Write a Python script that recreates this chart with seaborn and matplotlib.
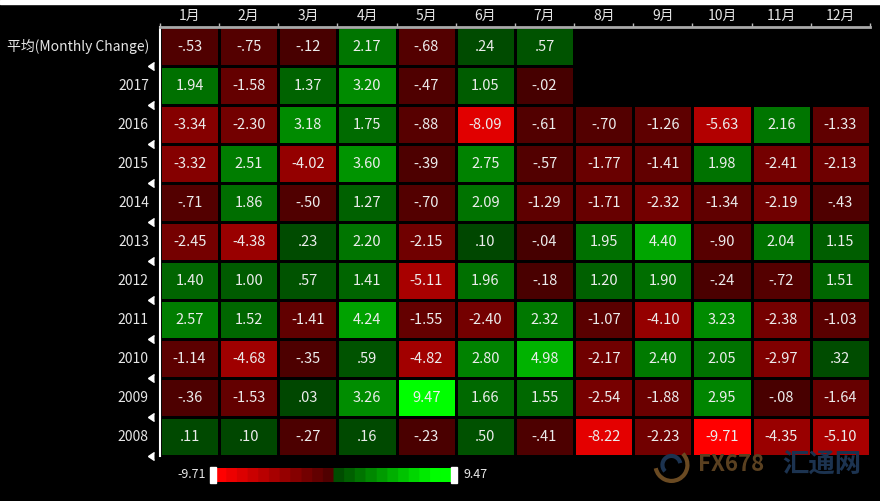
import numpy as np
import pandas as pd
import seaborn as sns
import matplotlib.pyplot as plt
from matplotlib.colors import LinearSegmentedColormap
from matplotlib.patches import Rectangle, Arc
import matplotlib.transforms as mtransforms

# Monthly change table (Bloomberg seasonality screen)
months = ["1月", "2月", "3月", "4月", "5月", "6月", "7月", "8月", "9月", "10月", "11月", "12月"]
rows = ["平均(Monthly Change)", "2017", "2016", "2015", "2014", "2013",
        "2012", "2011", "2010", "2009", "2008"]
nan = np.nan
avg = [-.53, -.75, -.12, 2.17, -.68, .24, .57, nan, nan, nan, nan, nan]
y2017 = [1.94, -1.58, 1.37, 3.20, -.47, 1.05, -.02, nan, nan, nan, nan, nan]
y2016 = [-3.34, -2.30, 3.18, 1.75, -.88, -8.09, -.61, -.70, -1.26, -5.63, 2.16, -1.33]
y2015 = [-3.32, 2.51, -4.02, 3.60, -.39, 2.75, -.57, -1.77, -1.41, 1.98, -2.41, -2.13]
y2014 = [-.71, 1.86, -.50, 1.27, -.70, 2.09, -1.29, -1.71, -2.32, -1.34, -2.19, -.43]
y2013 = [-2.45, -4.38, .23, 2.20, -2.15, .10, -.04, 1.95, 4.40, -.90, 2.04, 1.15]
y2012 = [1.40, 1.00, .57, 1.41, -5.11, 1.96, -.18, 1.20, 1.90, -.24, -.72, 1.51]
y2011 = [2.57, 1.52, -1.41, 4.24, -1.55, -2.40, 2.32, -1.07, -4.10, 3.23, -2.38, -1.03]
y2010 = [-1.14, -4.68, -.35, .59, -4.82, 2.80, 4.98, -2.17, 2.40, 2.05, -2.97, .32]
y2009 = [-.36, -1.53, .03, 3.26, 9.47, 1.66, 1.55, -2.54, -1.88, 2.95, -.08, -1.64]
y2008 = [.11, .10, -.27, .16, -.23, .50, -.41, -8.22, -2.23, -9.71, -4.35, -5.10]

df = pd.DataFrame([avg, y2017, y2016, y2015, y2014, y2013, y2012,
                   y2011, y2010, y2009, y2008], index=rows, columns=months)

vmin, vmax = -9.71, 9.47
span = vmax - vmin
z = -vmin / span
gsat = (8.6 - vmin) / span  # green saturates a bit before the top
cmap = LinearSegmentedColormap.from_list(
    "rg", [(0, "#ff0000"), (z, "#460000"), (z, "#004600"),
           (gsat, "#00ff00"), (1, "#00ff00")])


def fmt(v):
    if np.isnan(v):
        return ""
    s = f"{v:.2f}"
    return s.replace("0.", ".", 1) if s.lstrip("-").startswith("0.") else s


labels = df.map(fmt)

plt.rcParams["font.family"] = ["Noto Sans CJK SC", "DejaVu Sans"]
fig = plt.figure(figsize=(8.8, 5.01), dpi=100, facecolor="black")
ax = fig.add_axes([0.1818, 0.0898, 0.8068, 0.8562])
ax.set_facecolor("black")

sns.heatmap(df, ax=ax, cmap=cmap, vmin=vmin, vmax=vmax, cbar=False,
            annot=labels, fmt="", linewidths=1, linecolor="black",
            annot_kws={"color": "#ececec", "fontsize": 10.5})

ax.xaxis.tick_top()
ax.set_xticks(np.arange(12) + 0.5)
ax.set_xticklabels(months, color="#e6e6e6", fontsize=10)
ax.set_xticks(np.arange(13), minor=True)
ax.tick_params(axis="x", which="major", length=0, pad=3)
ax.tick_params(axis="x", which="minor", length=3, color="#bbbbbb", width=1)
ax.set_yticklabels(rows, color="#e6e6e6", fontsize=10, rotation=0)
ax.tick_params(axis="y", length=0, pad=8)
ax.set_xlabel("")
ax.set_ylabel("")
for side in ["right", "bottom"]:
    ax.spines[side].set_visible(False)
ax.spines["top"].set_visible(True)
ax.spines["top"].set_color("#aaaaaa")
ax.spines["top"].set_linewidth(2)
ax.spines["left"].set_visible(True)
ax.spines["left"].set_color("white")
ax.spines["left"].set_linewidth(1.5)

# little row markers on the left edge
trans = mtransforms.blended_transform_factory(ax.transAxes, ax.transData)
ax.plot([-0.009] * 11, np.arange(1, 12), linestyle="none", marker=8,
        markersize=6, color="white", transform=trans, clip_on=False)

# colour scale bar
cax = fig.add_axes([0.2443, 0.038, 0.2693, 0.028])
steps = cmap.resampled(22)
grad = np.linspace(vmin, vmax, 400).reshape(1, -1)
cax.imshow(grad, aspect="auto", cmap=steps, vmin=vmin, vmax=vmax,
           extent=[0, 1, 0, 1])
cax.add_patch(Rectangle((-0.02, -0.05), 0.025, 1.1, color="white",
                        transform=cax.transAxes, clip_on=False))
cax.add_patch(Rectangle((0.995, -0.05), 0.025, 1.1, color="white",
                        transform=cax.transAxes, clip_on=False))
cax.set_axis_off()
fig.text(0.234, 0.052, f"{vmin:.2f}", color="#e6e6e6", fontsize=9,
         ha="right", va="center")
fig.text(0.527, 0.052, f"{vmax:.2f}", color="#e6e6e6", fontsize=9,
         ha="left", va="center")

# watermark
fig.add_artist(Arc((0.763, 0.072), 32 / 880, 32 / 501, theta1=200, theta2=420,
                   color="#6a4a22", lw=3, transform=fig.transFigure))
fig.add_artist(Arc((0.763, 0.072), 18 / 880, 18 / 501, theta1=20, theta2=240,
                   color="#1c3350", lw=3, transform=fig.transFigure))
fig.text(0.793, 0.072, "FX678", color="#5a4020", fontsize=16,
         ha="left", va="center", fontweight="bold")
fig.text(0.889, 0.072, "汇通网", color="#1c3350", fontsize=19,
         ha="left", va="center", fontweight="bold")

# top white strip of the screen
fig.add_artist(Rectangle((0, 0.992), 1, 0.008, color="white",
                         transform=fig.transFigure))

fig.savefig("out.png", dpi=100, facecolor="black")
